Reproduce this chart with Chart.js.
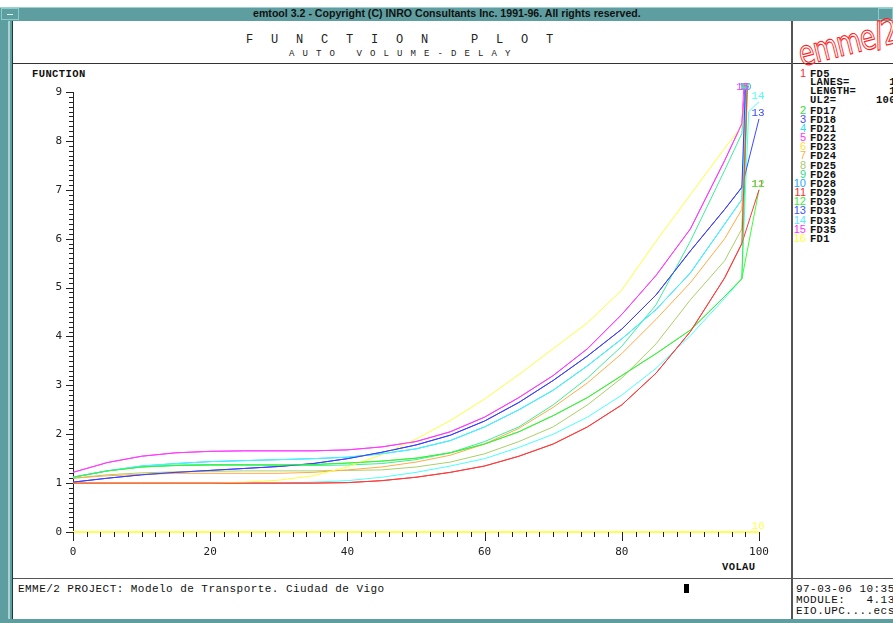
<!DOCTYPE html>
<html>
<head>
<meta charset="utf-8">
<script src="https://cdn.jsdelivr.net/npm/chart.js@4.4.0/dist/chart.umd.min.js"></script>
<style>
  body { margin: 0; width: 893px; height: 623px; overflow: hidden; background: #fff; position: relative; font-family: "Liberation Mono", monospace; }
  .abs { position: absolute; white-space: pre; }
  #frameL { left: 0; top: 7px; width: 12px; height: 616px; background: #5f9ea0; }
  #frameL2 { left: 8px; top: 21px; width: 2px; height: 598px; background: #a9d3d3; }
  #innerL { left: 12px; top: 21px; width: 1px; height: 598px; background: #1c3c3c; }
  #titlebar { left: 0; top: 7px; width: 893px; height: 14px; background: #5f9ea0; border-top: 1px solid #9fd0d0; box-sizing: border-box; }
  #titletext { left: 0; top: 8px; width: 893px; text-align: center; font: bold 10px "Liberation Sans", sans-serif; color: #111; }
  #titletext span { display: inline-block; transform: scaleX(1.06); }
  #btnL { left: 1px; top: 8px; width: 18px; height: 12px; border: 1px solid #8cc; box-sizing: border-box; }
  #btnL::after { content: ""; position: absolute; left: 5px; top: 5px; width: 6px; height: 1px; background: #cfe; }
  #btnR { left: 878px; top: 8px; width: 15px; height: 12px; border: 1px solid #8cc; box-sizing: border-box; }
  #bottomFrame { left: 0; top: 619px; width: 893px; height: 4px; background: #5f9ea0; }
  .hline { height: 1px; background: #333; }
  .vline { width: 2px; background: #555; }
  #head1 { left: 246px; top: 33px; font-size: 12px; letter-spacing: 17.8px; color: #222; }
  #head2 { left: 289px; top: 49px; font-size: 9px; letter-spacing: 8.1px; color: #222; }
  #logo { left: 799px; top: 40px; font: 30px "DejaVu Sans", sans-serif; color: transparent; -webkit-text-stroke: 1px #f22; transform: rotate(-14deg) scaleX(0.85) scaleY(1.15); transform-origin: left center; letter-spacing: -1px; line-height: 30px; }
  #legend { left: 786px; top: 67px; width: 107px; height: 180px; overflow: hidden; }
  .row { height: 9.17px; line-height: 9.17px; white-space: pre; }
  .num { display: inline-block; width: 20px; text-align: right; font: 11px "Liberation Sans", sans-serif; }
  .nm { margin-left: 4px; font: bold 10.5px "Liberation Mono", monospace; letter-spacing: 0.3px; color: #111; }
  .axisTitle { font: bold 10.5px "Liberation Mono", monospace; letter-spacing: 0.4px; color: #111; }
  .status { font: 11px "Liberation Mono", monospace; letter-spacing: 0.45px; color: #111; }
  #cursor { left: 684px; top: 584px; width: 5px; height: 9px; background: #000; }
  #plot { position: absolute; left: 13px; top: 64px; }
</style>
</head>
<body>
<div class="abs" id="frameL"></div>
<div class="abs" id="frameL2"></div>
<div class="abs" id="titlebar"></div>
<div class="abs" id="btnL"></div>
<div class="abs" id="btnR"></div>
<div class="abs" id="titletext"><span>emtool 3.2 - Copyright (C) INRO Consultants Inc. 1991-96. All rights reserved.</span></div>
<div class="abs" id="innerL"></div>
<div class="abs" id="bottomFrame"></div>

<div class="abs hline" style="left:13px; top:63px; width:880px;"></div>
<div class="abs hline" style="left:13px; top:578px; width:880px; background:#555;"></div>
<div class="abs vline" style="left:791px; top:21px; height:598px;"></div>

<div class="abs" id="head1">FUNCTION PLOT</div>
<div class="abs" id="head2">AUTO VOLUME-DELAY</div>
<div class="abs" id="logo">emme/2</div>

<div class="abs" id="legend"></div>

<div class="abs axisTitle" style="left:32px; top:68px;">FUNCTION</div>
<div class="abs axisTitle" style="left:722px; top:561px;">VOLAU</div>

<div class="abs status" style="left:18px; top:583px;">EMME/2 PROJECT: Modelo de Transporte. Ciudad de Vigo</div>
<div class="abs" id="cursor"></div>
<div class="abs status" style="left:796px; top:583px;">97-03-06 10:35</div>
<div class="abs status" style="left:796px; top:594px;">MODULE:   4.13</div>
<div class="abs status" style="left:796px; top:605px;">EIO.UPC....ecs</div>

<canvas id="plot" width="779" height="513"></canvas>

<script>
// volume (x) sample points
const volau = [0, 5, 10, 15, 20, 25, 30, 35, 40, 45, 50, 55, 60, 65, 70, 75, 80, 85, 90, 95, 97.5, 98.5, 100]

// function values (null = no point there)
const fd5  = [1.00,1.00,1.00,1.00,1.00,1.00,1.00,1.00,1.01,1.05,1.12,1.22,1.35,1.55,1.80,2.15,2.60,3.25,4.10,5.20,5.90,10,null]
const fd17 = [1.12,1.25,1.33,1.36,1.37,1.37,1.37,1.38,1.41,1.45,1.51,1.62,1.80,2.05,2.38,2.75,3.20,3.65,4.13,4.82,5.18,10,null]
const fd18 = [1.02,1.10,1.17,1.22,1.26,1.30,1.34,1.40,1.50,1.63,1.78,1.98,2.27,2.65,3.10,3.60,4.15,4.85,5.75,6.60,7.05,11,null]
const fd21 = [1.12,1.25,1.35,1.40,1.44,1.46,1.48,1.50,1.53,1.60,1.70,1.87,2.15,2.50,2.90,3.40,3.95,4.55,5.30,6.30,6.80,10,null]
const fd22 = [1.22,1.42,1.55,1.62,1.65,1.66,1.66,1.66,1.68,1.74,1.85,2.05,2.35,2.75,3.20,3.75,4.45,5.25,6.20,7.60,8.35,10,null]
const fd23 = [1.00,1.00,1.00,1.00,1.00,1.02,1.06,1.15,1.33,1.58,1.90,2.28,2.72,3.22,3.75,4.28,4.95,5.95,6.90,7.85,8.30,10,null]
const fd24 = [1.10,1.15,1.18,1.20,1.20,1.20,1.20,1.22,1.27,1.33,1.43,1.57,1.80,2.12,2.55,3.05,3.65,4.35,5.10,6.00,6.60,10,null]
const fd25 = [1.10,1.17,1.21,1.23,1.24,1.25,1.25,1.25,1.26,1.27,1.33,1.43,1.60,1.85,2.15,2.60,3.15,3.85,4.75,5.55,6.20,10,null]
const fd26 = [1.12,1.25,1.33,1.37,1.38,1.38,1.37,1.36,1.37,1.40,1.48,1.62,1.85,2.15,2.60,3.15,3.80,4.65,5.95,7.40,8.15,10,null]
const fd28 = [1.12,1.25,1.35,1.40,1.44,1.46,1.48,1.50,1.53,1.60,1.70,1.87,2.15,2.50,2.90,3.40,3.95,4.55,5.30,6.30,6.80,10.5,null]
const fd29 = [1.00,1.00,1.00,1.00,1.00,1.00,1.00,1.00,1.01,1.05,1.12,1.22,1.35,1.55,1.80,2.15,2.60,3.25,4.10,5.20,5.90,null,7.00]
const fd30 = [1.12,1.25,1.33,1.36,1.37,1.37,1.37,1.38,1.41,1.45,1.51,1.62,1.80,2.05,2.38,2.75,3.20,3.65,4.13,4.82,5.18,null,7.00]
const fd31 = [1.02,1.10,1.17,1.22,1.26,1.30,1.34,1.40,1.50,1.63,1.78,1.98,2.27,2.65,3.10,3.60,4.15,4.85,5.75,6.60,7.05,null,8.45]
const fd33 = [1.00,1.00,1.00,1.00,1.00,1.00,1.00,1.02,1.05,1.12,1.22,1.35,1.50,1.73,2.00,2.35,2.80,3.35,4.02,4.78,5.18,8.60,8.80]
const fd35 = [1.22,1.42,1.55,1.62,1.65,1.66,1.66,1.66,1.68,1.74,1.85,2.05,2.35,2.75,3.20,3.75,4.45,5.25,6.20,7.60,8.35,11,null]
const fd1  = [0,0,0,0,0,0,0,0,0,0,0,0,0,0,0,0,0,0,0,0,0,0,0]

const names = ['FD5','FD17','FD18','FD21','FD22','FD23','FD24','FD25','FD26','FD28','FD29','FD30','FD31','FD33','FD35','FD1']
const series = [fd5, fd17, fd18, fd21, fd22, fd23, fd24, fd25, fd26, fd28, fd29, fd30, fd31, fd33, fd35, fd1]
const lineColors = ['#ff3a3a','#3aee3a','#3a3aff','#3affff','#ff3aff','#ffff3a','#ffaa44','#a8d066','#3aee99','#3aaaff','#ff3a3a','#3aff3a','#3a4aff','#4affff','#ff3aff','#ffff50']
const numColors  = ['#ff2a2a','#33dd33','#4a4aff','#33ddee','#ff33ff','#ffe040','#ffb040','#aac870','#33dd88','#22aaff','#ff2a2a','#33ee33','#3a5aff','#55eeff','#ff33ff','#ffff33']
const fd5Params = [['LANES=', '      1'], ['LENGTH=', '     1'], ['UL2=', '      100']]

// legend panel
const legend = document.getElementById('legend')
names.forEach((n, i) => {
  legend.insertAdjacentHTML('beforeend', `<div class="row"><span class="num" style="color:${numColors[i]}">${i + 1}</span><span class="nm">${n}</span></div>`)
  if (i === 0) {
    fd5Params.forEach(p => legend.insertAdjacentHTML('beforeend', `<div class="row"><span class="num"></span><span class="nm">${p[0]}${p[1]}</span></div>`))
  }
})

const tickMarks = {
  id: 'tickMarks',
  afterDraw(chart) {
    const { ctx, chartArea } = chart
    const x = chart.scales.x, y = chart.scales.y
    ctx.save()
    ctx.strokeStyle = '#222'
    ctx.lineWidth = 1
    ctx.beginPath()
    for (let v = 0; v <= 100; v += 2) {
      const px = Math.round(x.getPixelForValue(v)) + 0.5
      ctx.moveTo(px, chartArea.bottom)
      ctx.lineTo(px, chartArea.bottom + (v % 20 === 0 ? 9 : 5))
    }
    for (let k = 0; k <= 90; k++) {
      const py = Math.round(y.getPixelForValue(k / 10)) + 0.5
      ctx.moveTo(chartArea.left, py)
      ctx.lineTo(chartArea.left - (k % 10 === 0 ? 7 : 4), py)
    }
    ctx.stroke()
    ctx.restore()
  }
}

const endLabels = {
  id: 'endLabels',
  afterDatasetsDraw(chart) {
    const { ctx, chartArea } = chart
    ctx.save()
    ctx.font = '11px "Liberation Mono"'
    ctx.textAlign = 'center'
    chart.data.datasets.forEach((ds, i) => {
      const pts = chart.getDatasetMeta(i).data.filter(p => !p.skip)
      let px, py
      const k = pts.findIndex(p => p.y < chartArea.top)
      if (k > 0) {
        const a = pts[k - 1], b = pts[k]
        px = a.x + (chartArea.top - a.y) * (b.x - a.x) / (b.y - a.y)
        py = chartArea.top - 2
      } else {
        const p = pts[pts.length - 1]
        px = p.x
        py = p.y - 3
      }
      ctx.fillStyle = ds.borderColor
      ctx.fillText(String(i + 1), px - 1, py)
    })
    ctx.restore()
  }
}

const tickFont = { family: 'DejaVu Sans Mono', size: 11 }

new Chart(document.getElementById('plot'), {
  type: 'line',
  data: {
    datasets: series.map((s, i) => ({
      label: names[i],
      data: volau.map((v, k) => ({ x: v, y: s[k] })),
      borderColor: lineColors[i],
      borderWidth: i === 15 ? 2 : 1,
      pointRadius: 0,
      spanGaps: true,
      tension: 0,
      fill: false,
      clip: 2
    }))
  },
  options: {
    responsive: false,
    animation: false,
    devicePixelRatio: 1,
    layout: { padding: { top: 28, right: 33, left: 0, bottom: 0 } },
    plugins: { legend: { display: false }, tooltip: { enabled: false } },
    scales: {
      x: {
        type: 'linear', min: 0, max: 100,
        ticks: { stepSize: 20, padding: 14, color: '#222', font: tickFont, maxRotation: 0 },
        grid: { display: false, drawTicks: false },
        border: { display: true, color: '#222' },
        afterFit: s => { s.height = 45 }
      },
      y: {
        min: 0, max: 9,
        ticks: { stepSize: 1, padding: 11, color: '#222', font: tickFont },
        grid: { display: false, drawTicks: false },
        border: { display: true, color: '#222' },
        afterFit: s => { s.width = 60 }
      }
    }
  },
  plugins: [tickMarks, endLabels]
})
</script>
</body>
</html>
